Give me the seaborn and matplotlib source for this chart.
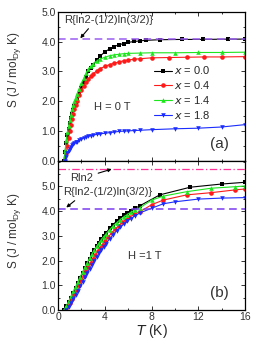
import matplotlib
matplotlib.use("Agg")
import matplotlib.pyplot as plt
import seaborn as sns
from matplotlib.ticker import MultipleLocator, FormatStrFormatter

sns.set_style("ticks")
plt.rcParams['font.family'] = ['Liberation Sans', 'DejaVu Sans']
plt.rcParams['mathtext.default'] = 'regular'

# ---- H = 0 T ----
t0_x00 = [0.5, 0.6, 0.7, 0.8, 0.9, 1.0, 1.1, 1.2, 1.3, 1.4, 1.5, 1.6, 1.8, 2.0, 2.2, 2.4, 2.6, 2.8,
          3.0, 3.3, 3.6, 4.0, 4.4, 4.8, 5.2, 5.6, 6.0, 6.5, 7.0, 7.5, 8.7, 10.6, 12.4, 14.5, 16.0]
s0_x00 = [0.0, 0.3, 0.6, 0.85, 1.05, 1.25, 1.42, 1.57, 1.7, 1.83, 1.95, 2.05, 2.25, 2.45, 2.65, 2.83, 3.0, 3.12,
          3.23, 3.38, 3.52, 3.66, 3.76, 3.84, 3.9, 3.94, 3.98, 4.01, 4.03, 4.05, 4.07, 4.08, 4.08, 4.09, 4.09]

t0_x04 = [0.6, 0.7, 0.8, 0.9, 1.0, 1.1, 1.2, 1.3, 1.4, 1.5, 1.6, 1.8, 2.0, 2.2, 2.4, 2.6, 2.8, 3.0,
          3.3, 3.6, 4.0, 4.4, 4.8, 5.2, 5.6, 6.0, 6.5, 7.0, 8.0, 9.5, 11.0, 12.5, 14.0, 16.0]
s0_x04 = [0.0, 0.25, 0.5, 0.75, 0.98, 1.2, 1.4, 1.58, 1.74, 1.88, 2.0, 2.2, 2.38, 2.52, 2.64, 2.75, 2.84, 2.92,
          3.02, 3.1, 3.17, 3.23, 3.28, 3.32, 3.36, 3.39, 3.41, 3.43, 3.46, 3.47, 3.48, 3.49, 3.49, 3.5]

t0_x14 = [0.5, 0.6, 0.7, 0.8, 0.9, 1.0, 1.1, 1.2, 1.3, 1.4, 1.5, 1.6, 1.8, 2.0, 2.2, 2.4, 2.6, 2.8,
          3.0, 3.3, 3.6, 4.0, 4.4, 4.8, 5.2, 5.6, 6.0, 7.0, 8.0, 10.0, 12.0, 14.0, 16.0]
s0_x14 = [0.0, 0.35, 0.7, 0.95, 1.17, 1.37, 1.55, 1.72, 1.87, 2.0, 2.12, 2.23, 2.42, 2.6, 2.78, 2.95, 3.08, 3.18,
          3.26, 3.35, 3.42, 3.48, 3.53, 3.56, 3.58, 3.6, 3.61, 3.62, 3.63, 3.63, 3.64, 3.64, 3.65]

t0_x18 = [0.6, 0.7, 0.8, 0.9, 1.0, 1.1, 1.2, 1.3, 1.4, 1.5, 1.6, 1.8, 2.0, 2.2, 2.4, 2.6, 2.8, 3.0,
          3.3, 3.6, 4.0, 4.4, 4.8, 5.2, 5.6, 6.0, 6.5, 7.0, 8.0, 10.0, 12.0, 14.0, 16.0]
s0_x18 = [0.0, 0.12, 0.24, 0.33, 0.4, 0.46, 0.51, 0.55, 0.58, 0.61, 0.64, 0.69, 0.73, 0.76, 0.79, 0.82, 0.84, 0.86,
          0.88, 0.9, 0.92, 0.94, 0.96, 0.98, 0.99, 1.0, 1.01, 1.02, 1.04, 1.07, 1.09, 1.13, 1.21]

# ---- H = 1 T ----
t1_x00 = [0.5, 0.7, 0.9, 1.1, 1.3, 1.5, 1.7, 1.9, 2.1, 2.3, 2.5, 2.7, 2.9, 3.1, 3.3, 3.5, 3.7, 3.9,
          4.1, 4.4, 4.7, 5.0, 5.3, 5.6, 5.9, 6.2, 6.6, 7.0, 8.7, 11.3, 14.0, 16.0]
s1_x00 = [0.0, 0.15, 0.32, 0.5, 0.7, 0.9, 1.1, 1.3, 1.5, 1.7, 1.9, 2.08, 2.25, 2.42, 2.58, 2.73, 2.87, 3.0,
          3.12, 3.3, 3.45, 3.6, 3.72, 3.83, 3.93, 4.02, 4.12, 4.22, 4.66, 4.97, 5.1, 5.17]

t1_x04 = [0.6, 0.8, 1.0, 1.2, 1.4, 1.6, 1.8, 2.0, 2.2, 2.4, 2.6, 2.8, 3.0, 3.2, 3.4, 3.6, 3.8, 4.0,
          4.3, 4.6, 4.9, 5.2, 5.5, 5.8, 6.1, 6.5, 7.0, 8.0, 9.0, 11.0, 13.1, 15.1, 16.0]
s1_x04 = [0.0, 0.12, 0.28, 0.45, 0.63, 0.82, 1.01, 1.2, 1.39, 1.57, 1.75, 1.92, 2.08, 2.23, 2.38, 2.52, 2.65, 2.78,
          2.96, 3.13, 3.28, 3.42, 3.55, 3.66, 3.76, 3.87, 3.98, 4.26, 4.45, 4.66, 4.75, 4.86, 4.9]

t1_x14 = [0.5, 0.7, 0.9, 1.1, 1.3, 1.5, 1.7, 1.9, 2.1, 2.3, 2.5, 2.7, 2.9, 3.1, 3.3, 3.5, 3.7, 3.9,
          4.1, 4.4, 4.7, 5.0, 5.3, 5.6, 5.9, 6.2, 6.6, 7.0, 8.0, 9.0, 11.0, 13.1, 15.1, 16.0]
s1_x14 = [0.0, 0.17, 0.35, 0.55, 0.75, 0.95, 1.15, 1.35, 1.55, 1.74, 1.92, 2.1, 2.27, 2.43, 2.58, 2.72, 2.85, 2.97,
          3.08, 3.25, 3.4, 3.53, 3.65, 3.76, 3.86, 3.95, 4.05, 4.14, 4.45, 4.61, 4.79, 4.93, 4.99, 5.02]

t1_x18 = [0.7, 0.9, 1.1, 1.3, 1.5, 1.7, 1.9, 2.1, 2.3, 2.5, 2.7, 2.9, 3.1, 3.3, 3.5, 3.7, 3.9, 4.1,
          4.4, 4.7, 5.0, 5.3, 5.6, 5.9, 6.2, 6.6, 7.0, 8.0, 9.0, 10.0, 12.0, 14.0, 16.0]
s1_x18 = [0.0, 0.12, 0.27, 0.43, 0.6, 0.78, 0.96, 1.14, 1.32, 1.5, 1.67, 1.83, 1.99, 2.14, 2.29, 2.43, 2.56, 2.69,
          2.87, 3.04, 3.2, 3.34, 3.47, 3.59, 3.7, 3.82, 3.93, 4.12, 4.3, 4.38, 4.49, 4.53, 4.55]

labels = ["$\\mathit{x}$ = 0.0", "$\\mathit{x}$ = 0.4", "$\\mathit{x}$ = 1.4", "$\\mathit{x}$ = 1.8"]
colors = ["black", "#ff1a1a", "#1ee61e", "#1a2cff"]
markers = ["s", "o", "^", "v"]

S_half = 4.08   # R{ln2-(1/2)ln(3/2)}
S_rln2 = 5.7    # Rln2

fig = plt.figure(figsize=(2.69, 3.46), dpi=100)
ax1 = fig.add_axes([0.216, 0.536, 0.695, 0.429])
ax2 = fig.add_axes([0.216, 0.104, 0.695, 0.432])

h0 = [(t0_x00, s0_x00), (t0_x04, s0_x04), (t0_x14, s0_x14), (t0_x18, s0_x18)]
h1 = [(t1_x00, s1_x00), (t1_x04, s1_x04), (t1_x14, s1_x14), (t1_x18, s1_x18)]

for j, (t, s) in enumerate(h0):
    sns.lineplot(x=t, y=s, ax=ax1, color=colors[j], marker=markers[j], markersize=3.3,
                 markeredgewidth=0, linewidth=0.8, sort=False, estimator=None, label=labels[j])
for j, (t, s) in enumerate(h1):
    sns.lineplot(x=t, y=s, ax=ax2, color=colors[j], marker=markers[j], markersize=3.3,
                 markeredgewidth=0, linewidth=0.8, sort=False, estimator=None, legend=False)

ax1.axhline(S_half, color="#9a5cf0", ls=(0, (5, 3)), lw=1.1)
ax2.axhline(S_half, color="#7a3cf0", ls=(0, (5, 3)), lw=1.1)
ax2.axhline(S_rln2, color="#ff3399", ls=(0, (6, 2, 1, 2)), lw=0.9)

ax1.set_ylim(0, 5.0)
ax2.set_ylim(0, 6.05)
for ax in (ax1, ax2):
    ax.set_xlim(0, 16)
    ax.xaxis.set_major_locator(MultipleLocator(4))
    ax.xaxis.set_minor_locator(MultipleLocator(2))
    ax.yaxis.set_major_locator(MultipleLocator(1))
    ax.yaxis.set_minor_locator(MultipleLocator(0.5))
    ax.yaxis.set_major_formatter(FormatStrFormatter('%.1f'))
    ax.tick_params(which='both', direction='in', top=True, right=True, labelsize=7.5,
                   width=0.7, pad=1.5, colors='#333333', labelcolor='#333333')
    ax.tick_params(which='major', length=3)
    ax.tick_params(which='minor', length=1.5)
    for sp in ax.spines.values():
        sp.set_linewidth(0.9)
        sp.set_color('black')
    ax.set_ylabel("S (J / mol$_{Dy}$ K)", fontsize=8.5, color='#333333')

ax2.set_yticks([0, 1, 2, 3, 4, 5])
ax1.tick_params(labelbottom=False)
ax1.set_xlabel("")
ax1.yaxis.set_label_coords(-0.19, 0.61)
ax2.yaxis.set_label_coords(-0.19, 0.53)
ax2.set_xlabel("$\\mathit{T}$ (K)", fontsize=10, labelpad=0)

ax1.legend(loc="upper left", bbox_to_anchor=(0.47, 0.7), frameon=False, fontsize=8,
           handlelength=1.6, handletextpad=0.2, labelspacing=0.25, borderpad=0.2)

ax1.annotate("R{ln2-(1/2)ln(3/2)}", xy=(1.9, 4.12), xytext=(0.55, 4.72), fontsize=8,
             va="center", color="#333333",
             arrowprops=dict(arrowstyle="-|>", color="black", lw=0.8, mutation_scale=5,
                             shrinkA=0, shrinkB=0, relpos=(0.3, 0.0)))
ax1.text(4.6, 1.8, "H = 0 T", fontsize=8, ha="center", va="center", color="#333333")
ax1.text(13.8, 0.57, "(a)", fontsize=11, ha="center", va="center", color="#333333")

ax2.annotate("Rln2", xy=(4.7, 5.72), xytext=(2.05, 5.34), fontsize=8, ha="center",
             va="center", color="#333333",
             arrowprops=dict(arrowstyle="-|>", color="black", lw=0.8, mutation_scale=5,
                             shrinkA=1, shrinkB=1))
ax2.annotate("R{ln2-(1/2)ln(3/2)}", xy=(0.7, 4.15), xytext=(0.4, 4.76), fontsize=8,
             va="center", color="#333333",
             arrowprops=dict(arrowstyle="-|>", color="black", lw=0.8, mutation_scale=5,
                             shrinkA=0, shrinkB=0, relpos=(0.18, 0.0)))
ax2.text(7.4, 2.2, "H =1 T", fontsize=8, ha="center", va="center", color="#333333")
ax2.text(13.8, 0.69, "(b)", fontsize=11, ha="center", va="center", color="#333333")

fig.savefig("out.png", dpi=100)
